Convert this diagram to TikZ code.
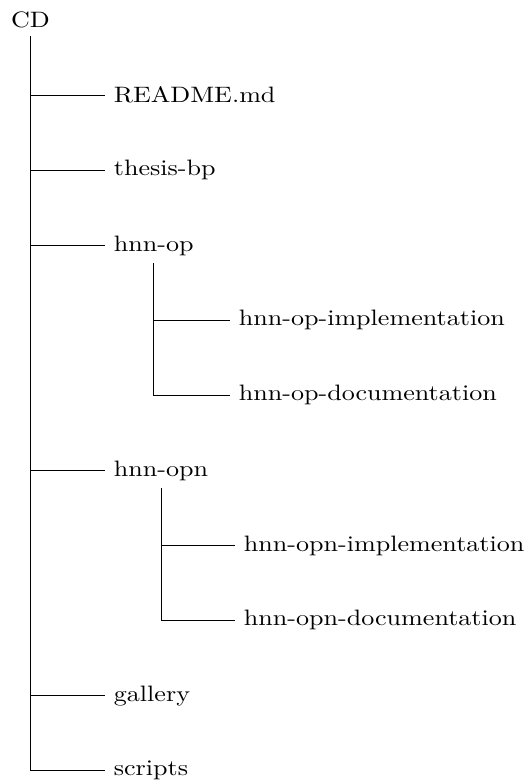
\documentclass[tikz,border=0pt]{standalone}
\usepackage{tikz}
\usetikzlibrary{positioning}

\begin{document}
\begin{tikzpicture}[
  file/.style={anchor=west,xscale=1.17},
  edge/.style={draw,line width=0.4pt}
]
  \useasboundingbox (0,0) rectangle (8.38,-12.36);
  \node[xscale=1.17] (cd) at (0.48,-0.32) {CD};
  \node[file] (readme) at (1.65,-1.50) {README.md};
  \node[file] (thesis) at (1.65,-2.68) {thesis-bp};
  \node[file] (hop) at (1.65,-3.87) {hnn-op};
  \node[file] (hopimpl) at (3.62,-5.05) {hnn-op-implementation};
  \node[file] (hopdoc) at (3.62,-6.23) {hnn-op-documentation};
  \node[file] (hopn) at (1.65,-7.42) {hnn-opn};
  \node[file] (hopnimpl) at (3.70,-8.60) {hnn-opn-implementation};
  \node[file] (hopndoc) at (3.70,-9.78) {hnn-opn-documentation};
  \node[file] (gallery) at (1.65,-10.97) {gallery};
  \node[file] (scripts) at (1.65,-12.15) {scripts};
  \draw[edge] (cd.south) |- (readme.west);
  \draw[edge] (cd.south) |- (thesis.west);
  \draw[edge] (cd.south) |- (hop.west);
  \draw[edge] (cd.south) |- (hopn.west);
  \draw[edge] (cd.south) |- (gallery.west);
  \draw[edge] (cd.south) |- (scripts.west);
  \draw[edge] (hop.south) |- (hopimpl.west);
  \draw[edge] (hop.south) |- (hopdoc.west);
  \draw[edge] (hopn.south) |- (hopnimpl.west);
  \draw[edge] (hopn.south) |- (hopndoc.west);
\end{tikzpicture}
\end{document}
